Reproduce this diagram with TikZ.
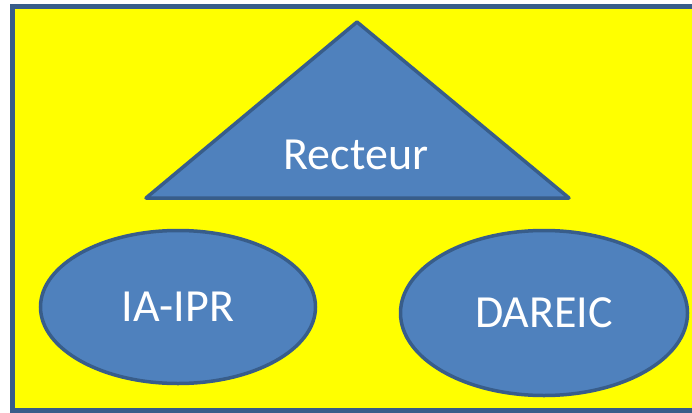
\documentclass[tikz,border=0pt]{standalone}
\usepackage{fontspec}
\setmainfont{Carlito}
\usetikzlibrary{shapes.geometric}

\definecolor{boxfill}{RGB}{255,255,0}
\definecolor{shapefill}{RGB}{79,129,189}
\definecolor{shapeline}{RGB}{56,93,138}

\begin{document}
\begin{tikzpicture}[x=1pt, y=-1pt,
  every node/.style={text=white, font=\fontsize{46}{48}\selectfont},
  blob/.style={ellipse, draw=shapeline, fill=shapefill, line width=3.5pt, inner sep=0pt}]
\useasboundingbox (0,0) rectangle (692,412);
\draw[line width=5pt, draw=shapeline, fill=boxfill] (12,7) rectangle (705,410);

\draw[line width=3.5pt, draw=shapeline, fill=shapefill, line join=round] (146,198) -- (357,22) -- (569,198) -- cycle;
\draw (356,155) node (Rect) {Recteur};

\draw (178,307) node (Ia) [blob, minimum width=275pt, minimum height=153pt] {IA-IPR};
\draw (544,313) node (Dar) [blob, minimum width=287pt, minimum height=165pt] {DAREIC};

\end{tikzpicture}
\end{document}
